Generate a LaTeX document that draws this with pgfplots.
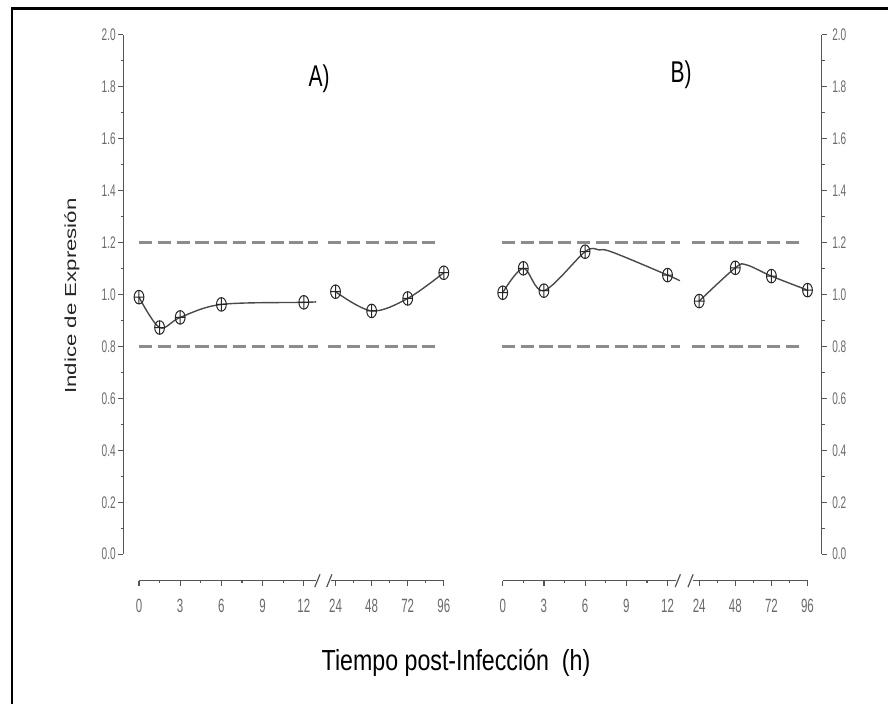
\documentclass[border=0pt]{standalone}
\usepackage{pgfplots}
\pgfplotsset{compat=1.18}
\usepackage{pgfplotstable}
\usepackage{fontspec}
\setmainfont{Liberation Sans}
\newfontfamily\narrowfont[FakeStretch=0.6]{Liberation Sans}
\newfontfamily\titlefont[FakeStretch=0.8]{Liberation Sans}
\newfontfamily\panelfont[FakeStretch=0.7]{Liberation Sans}
\newfontfamily\widefont[FakeStretch=1.39]{Liberation Sans}
\definecolor{axisgray}{HTML}{555555}
\definecolor{ticklab}{HTML}{6A6A6A}
\definecolor{dashgray}{HTML}{8C8C8C}
\definecolor{curve}{HTML}{4A4A4A}

% t = hours, v = expression index
\pgfplotstableread{
t v
0 0.990
1.5 0.873
3 0.912
6 0.962
12 0.970
}\AearlyPts
\pgfplotstableread{
t v
0 0.990
1.5 0.873
3 0.912
6 0.962
12 0.970
12.9 0.972
}\AearlyLine
\pgfplotstableread{
t v
24 1.011
48 0.937
72 0.985
96 1.084
}\Alate
\pgfplotstableread{
t v
0 1.007
1.5 1.101
3 1.015
6 1.165
12 1.075
}\BearlyPts
\pgfplotstableread{
t v
0 1.007
1.5 1.101
3 1.015
6 1.165
7 1.172
8 1.163
12 1.075
12.9 1.053
}\BearlyLine
\pgfplotstableread{
t v
24 0.975
48 1.103
72 1.071
96 1.017
}\BlatePts
\pgfplotstableread{
t v
24 0.975
48 1.103
55.5 1.114
72 1.071
96 1.017
}\BlateLine

\pgfplotsset{
  panel/.style={
    x=20.6pt, y=129.825pt,
    ymin=-0.102, ymax=2.0,
    scale only axis, clip=false,
    anchor=south west,
    axis x line*=bottom,
    x axis line style={draw=none},
    y axis line style={draw=none},
    tick align=outside,
    major tick length=2.6pt, minor tick length=1.4pt,
    every tick/.style={axisgray, line width=0.6pt},
    xtick={0,1,2,3,4,4.77,5.646,6.522,7.398},
    xticklabels={0,3,6,9,12,24,48,72,96},
    minor xtick={0.5,1.5,2.5,3.5,5.208,6.084,6.96},
    ytick={0,0.2,0.4,0.6,0.8,1,1.2,1.4,1.6,1.8,2},
    minor ytick={0.1,0.3,0.5,0.7,0.9,1.1,1.3,1.5,1.7,1.9},
    /pgf/number format/assume math mode=true,
    yticklabel style={/pgf/number format/fixed, /pgf/number format/fixed zerofill, /pgf/number format/precision=1,
      font=\fontsize{8.4}{9}\narrowfont, text=ticklab, inner sep=0pt},
    xticklabel style={font=\fontsize{9.6}{10}\narrowfont, text=ticklab, anchor=center, yshift=-10pt},
  },
  refline/.style={dashgray, line width=1.4pt, dash pattern=on 6.6pt off 2.8pt, forget plot},
  curveline/.style={curve, line width=0.7pt, smooth, tension=0.55, no markers},
  pts/.style={only marks, mark=oplus, mark size=3.4pt,
    mark options={xscale=0.72, draw=black!85, fill=white, line width=0.5pt}},
}

\begin{document}
\begin{tikzpicture}
\useasboundingbox (0,0) rectangle (444pt,352pt);
% frame
\draw[line width=1.4pt] (6pt,347.6pt) -- (444pt,347.6pt);
\draw[line width=1.1pt] (6pt,0pt) -- (6pt,348.3pt);

% ---------- Panel A ----------
\begin{axis}[panel, at={(61.65pt,61.65pt)},
  xmin=-0.381, xmax=7.42,
  axis y line*=left,
  yticklabel style={anchor=east, xshift=-1pt}]
  \draw[axisgray, line width=0.7pt] (axis cs:-0.381,0) -- (axis cs:-0.381,2);
  \draw[axisgray, line width=0.7pt] (axis cs:0,-0.102) -- (axis cs:4.29,-0.102);
  \draw[axisgray, line width=0.7pt] (axis cs:4.66,-0.102) -- (axis cs:7.41,-0.102);
  \draw[axisgray, line width=0.6pt] ([xshift=-1.3pt,yshift=-3.2pt]axis cs:4.33,-0.102) -- ([xshift=1.3pt,yshift=3.2pt]axis cs:4.33,-0.102);
  \draw[axisgray, line width=0.6pt] ([xshift=-1.3pt,yshift=-3.2pt]axis cs:4.62,-0.102) -- ([xshift=1.3pt,yshift=3.2pt]axis cs:4.62,-0.102);
  \addplot[refline] coordinates {(0,1.2) (4.34,1.2)};
  \addplot[refline] coordinates {(4.59,1.2) (7.31,1.2)};
  \addplot[refline] coordinates {(0,0.8) (4.34,0.8)};
  \addplot[refline] coordinates {(4.59,0.8) (7.31,0.8)};
  \addplot[curveline] table[x expr=\thisrow{t}/3, y=v] {\AearlyLine};
  \addplot[curveline] table[x expr=4.77+(\thisrow{t}-24)*0.0365, y=v] {\Alate};
  \addplot[pts] table[x expr=\thisrow{t}/3, y=v] {\AearlyPts};
  \addplot[pts] table[x expr=4.77+(\thisrow{t}-24)*0.0365, y=v] {\Alate};
\end{axis}

% ---------- Panel B ----------
\begin{axis}[panel, at={(250.32pt,61.65pt)},
  xmin=-0.05, xmax=7.743,
  axis y line*=right,
  yticklabel style={anchor=west, xshift=2.5pt}]
  \draw[axisgray, line width=0.7pt] (axis cs:7.743,0) -- (axis cs:7.743,2);
  \draw[axisgray, line width=0.7pt] (axis cs:0,-0.102) -- (axis cs:4.2,-0.102);
  \draw[axisgray, line width=0.7pt] (axis cs:4.61,-0.102) -- (axis cs:7.4,-0.102);
  \draw[axisgray, line width=0.6pt] ([xshift=-1.3pt,yshift=-3.2pt]axis cs:4.25,-0.102) -- ([xshift=1.3pt,yshift=3.2pt]axis cs:4.25,-0.102);
  \draw[axisgray, line width=0.6pt] ([xshift=-1.3pt,yshift=-3.2pt]axis cs:4.56,-0.102) -- ([xshift=1.3pt,yshift=3.2pt]axis cs:4.56,-0.102);
  \addplot[refline] coordinates {(-0.02,1.2) (4.31,1.2)};
  \addplot[refline] coordinates {(4.59,1.2) (7.29,1.2)};
  \addplot[refline] coordinates {(-0.02,0.8) (4.31,0.8)};
  \addplot[refline] coordinates {(4.59,0.8) (7.29,0.8)};
  \addplot[curveline] table[x expr=\thisrow{t}/3, y=v] {\BearlyLine};
  \addplot[curveline] table[x expr=4.77+(\thisrow{t}-24)*0.0365, y=v] {\BlateLine};
  \addplot[pts] table[x expr=\thisrow{t}/3, y=v] {\BearlyPts};
  \addplot[pts] table[x expr=4.77+(\thisrow{t}-24)*0.0365, y=v] {\BlatePts};
\end{axis}

% labels
\node[rotate=90, font=\fontsize{8}{9}\widefont, text=black!85] at (36pt,204pt) {Indice de Expresión};
\node[anchor=base, font=\fontsize{14.5}{16}\titlefont] at (228pt,16.5pt) {Tiempo post-Infección\ \ (h)};
\node[anchor=base, font=\fontsize{15}{17}\panelfont] at (159.5pt,308.5pt) {A)};
\node[anchor=base, font=\fontsize{15}{17}\panelfont] at (340.5pt,310.5pt) {B)};
\end{tikzpicture}
\end{document}
